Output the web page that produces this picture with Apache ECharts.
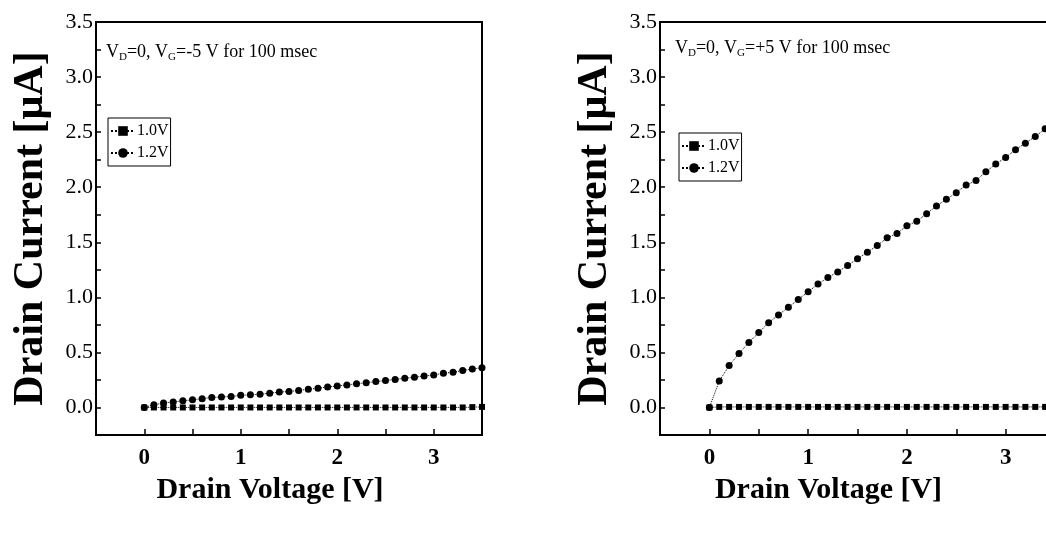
<!DOCTYPE html>
<html>
<head>
<meta charset="utf-8">
<script src="https://cdn.jsdelivr.net/npm/echarts@6/dist/echarts.min.js"></script>
<style>html,body{margin:0;padding:0;background:#fff}#c{width:1046px;height:536px}</style>
</head>
<body>
<div id="c"></div>
<script>
// Drain voltage (V) sample points
const drainVoltage = [0,0.1,0.2,0.3,0.4,0.5,0.6,0.7,0.8,0.9,1.0,1.1,1.2,1.3,1.4,1.5,1.6,1.7,1.8,1.9,2.0,2.1,2.2,2.3,2.4,2.5,2.6,2.7,2.8,2.9,3.0,3.1,3.2,3.3,3.4,3.5];
const seriesNames = ['1.0V', '1.2V'];
// Left panel: VD=0, VG=-5V for 100msec
const left_10V = [0,0,0,0,0,0,0,0,0,0,0,0,0,0,0,0,0,0,0,0,0,0,0,0,0,0,0,0,0,0,0,0,0,0,0.003,0.005];
const left_12V = [0,0.025,0.04,0.05,0.06,0.07,0.08,0.09,0.095,0.10,0.11,0.115,0.12,0.13,0.14,0.145,0.155,0.165,0.175,0.185,0.195,0.205,0.215,0.225,0.235,0.245,0.255,0.265,0.275,0.285,0.295,0.31,0.32,0.335,0.35,0.36];
// Right panel: VD=0, VG=+5V for 100msec
const right_10V = [0,0.005,0.005,0.005,0.005,0.005,0.005,0.005,0.005,0.005,0.005,0.005,0.005,0.005,0.005,0.005,0.005,0.005,0.005,0.005,0.005,0.005,0.005,0.005,0.005,0.005,0.005,0.005,0.005,0.005,0.005,0.005,0.005,0.005,0.005,0.005];
const right_12V = [0,0.24,0.38,0.49,0.59,0.68,0.77,0.84,0.91,0.98,1.05,1.12,1.18,1.23,1.29,1.35,1.41,1.47,1.54,1.58,1.65,1.69,1.76,1.83,1.89,1.95,2.02,2.06,2.14,2.21,2.27,2.34,2.40,2.46,2.53,2.59];
const yTicks = ['0.0','0.5','1.0','1.5','2.0','2.5','3.0','3.5'];
const xTicks = ['0','1','2','3'];

const SERIF = '"Liberation Serif", "DejaVu Serif", serif';
const pair = (xs, ys) => xs.map((x, i) => [x, ys[i]]);

function xAxis(idx, pad) {
  return {
    type: 'value', gridIndex: idx, min: -0.5, max: 3.5, interval: 0.5,
    axisLine: {onZero: false, lineStyle: {color: '#000', width: 2}},
    axisTick: {inside: true, length: 6, lineStyle: {color: '#000', width: 1.5}},
    splitLine: {show: false},
    axisLabel: {
      margin: 12, color: '#000', fontFamily: SERIF, fontWeight: 'bold', fontSize: 23,
      formatter: v => { const s = String(Math.round(v)); return (Math.abs(v - Math.round(v)) < 1e-6 && xTicks.includes(s)) ? s : ''; }
    },
    name: 'Drain Voltage [V]', nameLocation: 'middle', nameGap: 40,
    nameTextStyle: {color: '#000', fontFamily: SERIF, fontWeight: 'bold', fontSize: 30, padding: pad}
  };
}
function yAxis(idx) {
  return {
    type: 'value', gridIndex: idx, min: -0.25, max: 3.5, interval: 0.25,
    axisLine: {onZero: false, lineStyle: {color: '#000', width: 2}},
    axisTick: {inside: true, length: 5, lineStyle: {color: '#000', width: 1.5}},
    splitLine: {show: false},
    axisLabel: {
      margin: 3, color: '#000', fontFamily: SERIF, fontSize: 22,
      formatter: v => { const s = v.toFixed(1); return (Math.abs(v*2 - Math.round(v*2)) < 1e-6 && yTicks.includes(s)) ? s : ''; }
    },
    name: 'Drain Current [μA]', nameLocation: 'middle', nameGap: 44,
    nameTextStyle: {color: '#000', fontFamily: SERIF, fontWeight: 'bold', fontSize: 42}
  };
}
function ser(name, idx, data, sym) {
  return {
    name: name, type: 'line', xAxisIndex: idx, yAxisIndex: idx, data: data,
    symbol: sym, symbolSize: sym === 'rect' ? 6 : 7, showSymbol: true,
    itemStyle: {color: '#000'},
    lineStyle: {color: '#000', width: 1, type: 'dotted'},
    clip: false, animation: false
  };
}
function legend(left, top) {
  return {
    left: left, top: top, orient: 'vertical', data: seriesNames,
    borderColor: '#000', borderWidth: 1, padding: [5, 2, 5, 2], itemGap: 6,
    itemWidth: 24, itemHeight: 12, selectedMode: false,
    textStyle: {color: '#000', fontFamily: SERIF, fontSize: 16, padding: [0, 0, 0, -3]}
  };
}
function note(left, top, sign) {
  return {
    left: left, top: top,
    text: '{n|V}{s|D}{n|=0, V}{s|G}{n|=' + sign + '5 V for 100 msec}',
    textStyle: {
      fontWeight: 'normal',
      rich: {
        n: {fontFamily: SERIF, fontSize: 18, fontWeight: 'normal', color: '#000', verticalAlign: 'middle'},
        s: {fontFamily: SERIF, fontSize: 11, fontWeight: 'normal', color: '#000', verticalAlign: 'middle', padding: [11, 0, 0, 0]}
      }
    }
  };
}

const chart = echarts.init(document.getElementById('c'), null, {renderer: 'canvas'});
chart.setOption({
  backgroundColor: '#fff',
  animation: false,
  grid: [
    {left: 96, top: 22, right: 564, bottom: 101, show: true, borderColor: '#000', borderWidth: 2, containLabel: false, outerBoundsMode: 'none'},
    {left: 660, top: 22, right: -9, bottom: 101, show: true, borderColor: '#000', borderWidth: 2, containLabel: false, outerBoundsMode: 'none'}
  ],
  xAxis: [xAxis(0, [0, 38, 0, 0]), xAxis(1, [0, 58, 0, 0])],
  yAxis: [yAxis(0), yAxis(1)],
  title: [note(101, 36, '-'), note(670, 32, '+')],
  legend: [legend(108, 118), legend(679, 133)],
  series: [
    ser(seriesNames[0], 0, pair(drainVoltage, left_10V), 'rect'),
    ser(seriesNames[1], 0, pair(drainVoltage, left_12V), 'circle'),
    ser(seriesNames[0], 1, pair(drainVoltage, right_10V), 'rect'),
    ser(seriesNames[1], 1, pair(drainVoltage, right_12V), 'circle')
  ]
});
</script>
</body>
</html>
